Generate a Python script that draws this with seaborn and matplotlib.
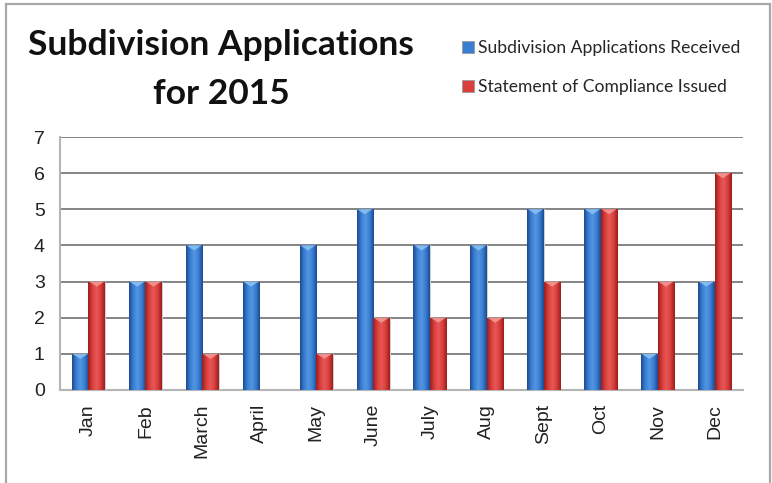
import numpy as np
import pandas as pd
import matplotlib
matplotlib.use("Agg")
import matplotlib.pyplot as plt
from matplotlib.colors import LinearSegmentedColormap
from matplotlib.patches import Rectangle, Polygon
from matplotlib.lines import Line2D
import seaborn as sns

months = ["Jan", "Feb", "March", "April", "May", "June",
          "July", "Aug", "Sept", "Oct", "Nov", "Dec"]
received = [1, 3, 4, 3, 4, 5, 4, 4, 5, 5, 1, 3]
issued = [3, 3, 1, 0, 1, 2, 2, 2, 3, 5, 3, 6]
series_names = ["Subdivision Applications Received", "Statement of Compliance Issued"]
y_ticks = [0, 1, 2, 3, 4, 5, 6, 7]

df = pd.DataFrame({
    "month": months * 2,
    "count": received + issued,
    "series": [series_names[0]] * len(months) + [series_names[1]] * len(months),
})

blue_mid, blue_dark, blue_light = "#3a7ed3", "#1d4a90", "#8ec3f2"
red_mid, red_dark, red_light = "#d83f3d", "#9c1e1e", "#f59a96"

sns.set_theme(style="white")
plt.rcParams["font.family"] = ["Liberation Sans", "DejaVu Sans"]

fig = plt.figure(figsize=(7.72, 4.83), dpi=100)
ax = fig.add_axes([60 / 772, 93 / 483, 683 / 772, 253 / 483])

sns.barplot(data=df, x="month", y="count", hue="series", order=months,
            hue_order=series_names, palette=[blue_mid, red_mid],
            width=0.58, gap=0, ax=ax, legend=False, saturation=1,
            edgecolor="#cfcfcf", linewidth=0.8, zorder=3)

cmaps = {
    0: LinearSegmentedColormap.from_list("b", [blue_dark, blue_mid, "#5296e2", blue_mid, blue_dark]),
    1: LinearSegmentedColormap.from_list("r", [red_dark, red_mid, "#e85856", red_mid, red_dark]),
}
caps = {0: blue_light, 1: red_light}
grad = np.linspace(0, 1, 64).reshape(1, -1)
bars = [p for p in ax.patches if isinstance(p, Rectangle)]
n = len(months)
for k, p in enumerate(bars[:2 * n]):
    s = k // n
    x, w, h = p.get_x(), p.get_width(), p.get_height()
    if h <= 0:
        continue
    im = ax.imshow(grad, extent=[x, x + w, 0, h], aspect="auto",
                   cmap=cmaps[s], zorder=4, interpolation="bilinear")
    im.set_clip_path(p)
    ax.add_patch(Polygon([[x + 0.01, h], [x + w - 0.01, h], [x + w / 2, h - 0.14]],
                         closed=True, facecolor=caps[s], edgecolor="none",
                         alpha=0.85, zorder=5))

ax.set_xlim(-0.5, n - 0.5)
ax.set_ylim(0, 7)
ax.set_yticks(y_ticks)
ax.set_yticklabels([str(v) for v in y_ticks], fontsize=14, color="#222222")
ax.set_xticks(range(n))
ax.set_xticklabels(months, rotation=90, fontsize=14, color="#222222")
ax.set_xticks(np.arange(-0.5, n, 1), minor=True)
ax.tick_params(axis="x", which="major", length=0, pad=10)
ax.tick_params(axis="x", which="minor", length=6, width=1.2, color="#b5b5b5", direction="out")
ax.tick_params(axis="y", which="major", length=5, width=1.2, color="#b5b5b5", direction="out", pad=6)
ax.set_xlabel("")
ax.set_ylabel("")
ax.yaxis.grid(True, color="#707070", linewidth=1.2, zorder=0)
ax.set_axisbelow(True)
for side in ["top", "right"]:
    ax.spines[side].set_visible(False)
ax.spines["left"].set_color("#b5b5b5")
ax.spines["left"].set_linewidth(1.5)
ax.spines["bottom"].set_color("#b5b5b5")
ax.spines["bottom"].set_linewidth(1.5)

fig.text(221 / 772, 1 - 45 / 483, "Subdivision Applications", ha="center", va="center",
         fontsize=25.5, fontweight="bold", family=["Lato", "DejaVu Sans"], color="#111111")
fig.text(221 / 772, 1 - 94 / 483, "for 2015", ha="center", va="center",
         fontsize=25.5, fontweight="bold", family=["Lato", "DejaVu Sans"], color="#111111")

handles = [Line2D([], [], marker="s", linestyle="", markersize=8,
                  markerfacecolor=c, markeredgecolor="#9a9a9a", markeredgewidth=0.6)
           for c in [blue_mid, red_mid]]
fig.legend(handles, series_names, loc="upper left", bbox_to_anchor=(443 / 772, 1 - 24 / 483),
           frameon=False, handletextpad=0.1, handlelength=1.0, labelspacing=1.35,
           prop={"family": ["Lato", "DejaVu Sans"], "size": 12.6})

fig.add_artist(Rectangle((6 / 772, -0.1), 764 / 772, 1.1 - 4 / 483, transform=fig.transFigure,
                         fill=False, edgecolor="#a8a8a8", linewidth=1.6, clip_on=False))

fig.savefig("out.png", dpi=100)
